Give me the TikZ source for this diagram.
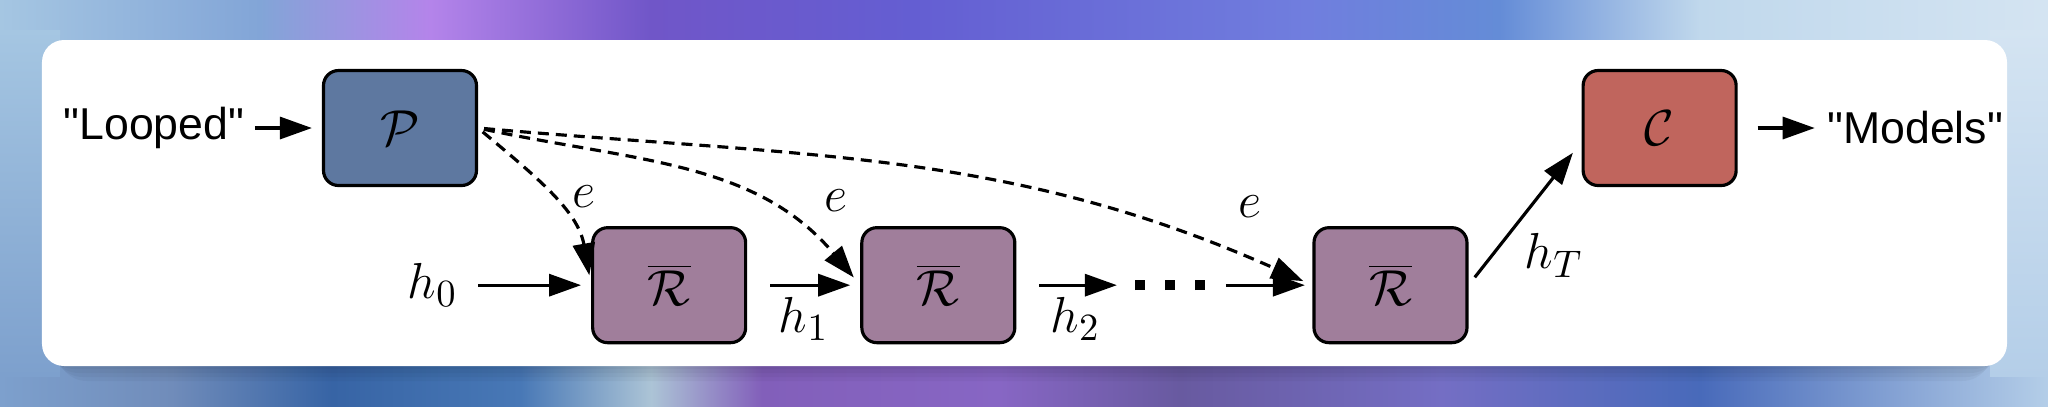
\documentclass[tikz,border=0pt]{standalone}
\usepackage[no-math]{fontspec}
\newfontfamily\wordfont{Liberation Sans}
\usetikzlibrary{arrows.meta,positioning}
\definecolor{encblue}{RGB}{94,120,160}
\definecolor{loopmauve}{RGB}{160,126,155}
\definecolor{clsred}{RGB}{192,101,93}
\definecolor{bgtA}{RGB}{165,198,226}
\definecolor{bgtB}{RGB}{130,165,215}
\definecolor{bgtC}{RGB}{180,132,234}
\definecolor{bgtD}{RGB}{112,86,200}
\definecolor{bgtE}{RGB}{100,94,210}
\definecolor{bgtF}{RGB}{112,126,222}
\definecolor{bgtG}{RGB}{100,140,215}
\definecolor{bgtH}{RGB}{192,216,236}
\definecolor{bgtI}{RGB}{212,228,242}
\definecolor{bgbA}{RGB}{125,160,205}
\definecolor{bgbB}{RGB}{112,140,186}
\definecolor{bgbC}{RGB}{55,100,165}
\definecolor{bgbD}{RGB}{72,120,182}
\definecolor{bgbE}{RGB}{172,196,214}
\definecolor{bgbF}{RGB}{130,95,186}
\definecolor{bgbG}{RGB}{135,102,196}
\definecolor{bgbH}{RGB}{104,90,160}
\definecolor{bgbI}{RGB}{116,110,196}
\definecolor{bgbJ}{RGB}{72,106,186}
\definecolor{bgbK}{RGB}{180,206,232}
\pgfdeclarehorizontalshading{bgtop}{100bp}{color(0bp)=(bgtA); color(25bp)=(bgtA);
  color(31.35bp)=(bgtB); color(35.5bp)=(bgtC); color(40.9bp)=(bgtD); color(47.3bp)=(bgtE);
  color(56.9bp)=(bgtF); color(61.6bp)=(bgtG); color(66.5bp)=(bgtH); color(75bp)=(bgtI);
  color(100bp)=(bgtI)}
\pgfdeclarehorizontalshading{bgbot}{100bp}{color(0bp)=(bgbA); color(25bp)=(bgbA);
  color(29.2bp)=(bgbB); color(33.1bp)=(bgbC); color(37.7bp)=(bgbD); color(40.9bp)=(bgbE);
  color(43.6bp)=(bgbF); color(49.4bp)=(bgbG); color(53.8bp)=(bgbH); color(60.2bp)=(bgbI);
  color(66.5bp)=(bgbJ); color(75bp)=(bgbK); color(100bp)=(bgbK)}

\begin{document}
\begin{tikzpicture}[node distance=0.39cm and 1.13cm,
    blk/.style={rectangle,rounded corners=0.15cm,draw=black,line width=0.9pt,
      minimum width=1.53cm,minimum height=1.15cm,font=\fontsize{15}{18}\selectfont},
    enc/.style={blk,fill=encblue},
    rec/.style={blk,fill=loopmauve},
    cls/.style={blk,fill=clsred},
    word/.style={inner sep=0.5mm,font=\wordfont\fontsize{12.7}{15}\selectfont},
    hlab/.style={inner sep=0.5mm,font=\fontsize{15}{18}\selectfont},
    arrow/.style={-{Triangle[length=3.2mm,width=2.2mm]},line width=0.9pt},
    embed/.style={arrow,dash pattern=on 1.1mm off 0.7mm}]
  \useasboundingbox (0,0) rectangle (20.48,-4.06);
  \shade[shading=bgtop] (0,0) rectangle (20.48,-2.03);
  \shade[shading=bgbot] (0,-2.03) rectangle (20.48,-4.06);
  \shade[top color=bgtA,bottom color=bgbA] (0,-0.3) rectangle (0.6,-3.76);
  \shade[top color=bgtI,bottom color=bgbK] (19.9,-0.3) rectangle (20.48,-3.76);
  \foreach \s in {0.03,0.07,0.11,0.15}
    \fill[black,opacity=0.035,rounded corners=0.3cm] (0.42+\s,-0.50) rectangle (20.07-\s,-3.66-\s);
  \fill[white,rounded corners=0.22cm] (0.42,-0.40) rectangle (20.07,-3.66);

  \node[enc] (p) at (4.00,-1.28) {$\mathcal{P}$};
  \node[rec,below right=of p] (r1) {$\overline{\mathcal{R}}$};
  \node[rec,right=1.13cm of r1] (r2) {$\overline{\mathcal{R}}$};
  \node[inner sep=0pt,right=1.18cm of r2] (dots) {\rule{1mm}{1mm}\hspace{2mm}\rule{1mm}{1mm}\hspace{2mm}\rule{1mm}{1mm}};
  \node[rec,right=2.96cm of r2] (r3) {$\overline{\mathcal{R}}$};
  \node[cls,above right=of r3] (c) {$\mathcal{C}$};
  \node[word,left=0.72cm of p] (looped) {"Looped"};
  \node[word,right=0.84cm of c] (models) {"Models"};
  \node[hlab,left=1.28cm of r1] (h0) {$h_0$};

  \draw[arrow,shorten <=0.5mm,shorten >=1mm] (looped) -- (p);
  \draw[arrow,shorten <=2mm,shorten >=0.7mm] (c) -- (models);
  \draw[arrow,shorten <=1.5mm,shorten >=1mm] (h0) -- (r1);
  \draw[arrow,shorten <=2.3mm,shorten >=1mm] (r1) -- node[hlab,below=0.6mm] (h1) {$h_1$} (r2);
  \draw[arrow,shorten <=2.3mm,shorten >=1.75mm] (r2) -- node[hlab,below=0.6mm] (h2) {$h_2$} (dots);
  \draw[arrow,shorten <=2mm,shorten >=0.75mm] (dots) -- (r3);
  \draw[arrow,shorten <=1mm,shorten >=1.4mm] (r3.east) -- node[hlab,pos=0.42,below right=0.3mm] (hT) {$h_T$} (c.190);
  \draw[embed,shorten <=0.6mm,shorten >=1mm] (p.east) to[out=-40,in=100]
    node[hlab,pos=0.5,right=1.5mm] (e1) {$e$} (r1.west);
  \draw[embed,shorten <=0.6mm,shorten >=1mm] (p.east) to[out=-12,in=130]
    node[hlab,pos=0.8,above right=0.6mm and 2.2mm] (e2) {$e$} (r2.west);
  \draw[embed,shorten <=0.6mm,shorten >=1mm] (p.east) to[out=-5,in=156]
    node[hlab,pos=0.93,above=3.5mm] (e3) {$e$} (r3.west);
\end{tikzpicture}
\end{document}
